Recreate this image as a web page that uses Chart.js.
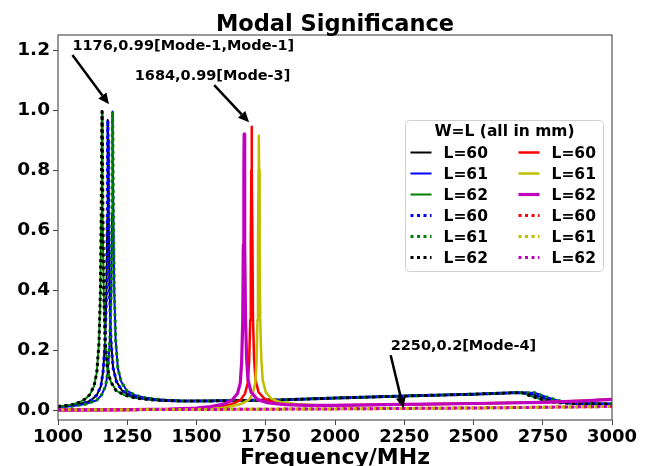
<!DOCTYPE html>
<html>
<head>
<meta charset="utf-8">
<script src="https://cdn.jsdelivr.net/npm/chart.js@4.4.1/dist/chart.umd.min.js"></script>
<style>
  html, body { margin: 0; padding: 0; background: #fff; }
  #wrap { width: 656px; height: 466px; }
</style>
</head>
<body>
<div id="wrap"><canvas id="chart" width="656" height="466"></canvas></div>
<script>
// Modal significance curves (x in MHz)
const freqA60 = [1000,1050,1100,1120,1140,1155,1163,1170,1175,1178,1179,1180,1181,1183,1186,1191,1199,1211,1231,1260,1300,1370,1450,1600,1800,2000,2250,2500,2650,2700,2740,2780,2820,2870,3000];
const msA60   = [0.011,0.015,0.025,0.033,0.05,0.08,0.13,0.23,0.39,0.64,0.90,0.967,0.90,0.64,0.40,0.235,0.14,0.095,0.065,0.05,0.04,0.033,0.030,0.031,0.034,0.040,0.047,0.053,0.058,0.057,0.045,0.033,0.026,0.022,0.020];

const freqA61 = [1000,1050,1100,1140,1157,1172,1180,1187,1192,1195,1196,1197,1198,1200,1203,1208,1216,1228,1248,1278,1320,1390,1460,1600,1800,2000,2250,2500,2650,2720,2760,2800,2840,2890,3000];
const msA61   = [0.010,0.013,0.02,0.033,0.05,0.08,0.13,0.23,0.39,0.65,0.92,0.995,0.92,0.65,0.40,0.235,0.14,0.095,0.065,0.05,0.04,0.033,0.030,0.031,0.034,0.040,0.047,0.053,0.058,0.058,0.045,0.033,0.026,0.022,0.021];

const freqA62 = [1000,1050,1080,1100,1115,1130,1140,1148,1153,1156,1158,1159,1160,1162,1165,1170,1178,1190,1210,1240,1280,1350,1450,1600,1800,2000,2250,2500,2650,2675,2710,2750,2790,2850,3000];
const msA62   = [0.012,0.018,0.027,0.038,0.052,0.080,0.125,0.225,0.39,0.65,0.93,0.995,0.93,0.65,0.40,0.235,0.14,0.095,0.065,0.05,0.04,0.033,0.030,0.031,0.034,0.040,0.047,0.053,0.058,0.058,0.046,0.034,0.026,0.022,0.020];

const freqB60 = [1000,1300,1500,1580,1630,1660,1675,1685,1690,1694,1696,1698,1699,1700,1702,1704,1708,1713,1724,1745,1780,1840,1900,2000,2250,2500,2750,2900,3000];
const msB60   = [0.0,0.001,0.004,0.01,0.02,0.035,0.055,0.09,0.16,0.3,0.55,0.8,0.944,0.8,0.55,0.3,0.17,0.1,0.06,0.038,0.026,0.019,0.017,0.016,0.019,0.022,0.026,0.031,0.036];

const freqB61 = [1000,1300,1500,1600,1660,1690,1703,1712,1717,1720,1722,1724,1725,1726,1728,1730,1734,1739,1750,1770,1800,1860,1920,2000,2250,2500,2750,2900,3000];
const msB61   = [0.0,0.001,0.003,0.008,0.02,0.035,0.055,0.09,0.16,0.3,0.55,0.8,0.914,0.8,0.55,0.3,0.17,0.1,0.06,0.038,0.027,0.02,0.017,0.016,0.019,0.022,0.026,0.031,0.036];

const freqB62 = [1000,1200,1400,1500,1550,1600,1630,1648,1658,1663,1667,1669,1671,1672,1673,1675,1677,1681,1686,1697,1720,1760,1820,1900,2000,2250,2500,2750,2900,3000];
const msB62   = [0.0,0.001,0.003,0.007,0.012,0.02,0.035,0.055,0.09,0.16,0.3,0.55,0.8,0.92,0.8,0.55,0.3,0.17,0.1,0.06,0.035,0.024,0.018,0.016,0.016,0.019,0.022,0.026,0.031,0.036];

const freqBdot = [1000,1500,2000,2500,3000];
const msBdot   = [0.001,0.002,0.004,0.007,0.012];

const seriesLabels = ['L=60','L=61','L=62','L=60','L=61','L=62','L=60','L=61','L=62','L=60','L=61','L=62'];
const seriesFreq = [freqA60, freqA61, freqA62, freqA60, freqA61, freqA62, freqB60, freqB61, freqB62, freqBdot, freqBdot, freqBdot];
const seriesMs   = [msA60, msA61, msA62, msA60, msA61, msA62, msB60, msB61, msB62, msBdot, msBdot, msBdot];

const xTicks = [1000,1250,1500,1750,2000,2250,2500,2750,3000];
const yTicks = [0.0,0.2,0.4,0.6,0.8,1.0,1.2];

const annotTexts = ['1176,0.99[Mode-1,Mode-1]', '1684,0.99[Mode-3]', '2250,0.2[Mode-4]'];
const annotTextAt = [[1052,1.211],[1277,1.111],[2201,0.213]];
const annotFrom = [[1052,1.183],[1564,1.083],[2201,0.183]];
const annotTo = [[1184,1.019],[1690,0.959],[2247,0.006]];

// styles
const colors = ['#000000','#0000ff','#008000','#0000ff','#008000','#000000','#ff0000','#bfbf00','#bf00bf','#ff0000','#bfbf00','#bf00bf'];
const widths = [2,2,2,3,3,3,2.5,2.5,3.2,3,3,3];
const dotted = [false,false,false,true,true,true,false,false,false,true,true,true];
const dashOffsets = [0,0,0,0,0,0,0,0,0,2,3.2,0];
const DOT = [3, 3.5];
const FONT = '"DejaVu Sans", sans-serif';

const datasets = seriesLabels.map((label, i) => ({
  label,
  data: seriesFreq[i].map((f, k) => ({ x: f, y: seriesMs[i][k] })),
  borderColor: colors[i],
  borderWidth: widths[i],
  borderDash: dotted[i] ? DOT : [],
  borderDashOffset: dashOffsets[i],
  borderCapStyle: 'butt',
  borderJoinStyle: 'round',
  pointRadius: 0,
  tension: 0,
  fill: false,
  order: seriesLabels.length - i
}));

function drawArrow(ctx, x0, y0, x1, y1) {
  const ang = Math.atan2(y1 - y0, x1 - x0);
  const headLen = 11, headW = 5;
  const bx = x1 - headLen * Math.cos(ang), by = y1 - headLen * Math.sin(ang);
  ctx.beginPath();
  ctx.moveTo(x0, y0);
  ctx.lineTo(bx, by);
  ctx.lineWidth = 2.5;
  ctx.stroke();
  ctx.beginPath();
  ctx.moveTo(x1, y1);
  ctx.lineTo(bx + headW * Math.sin(ang), by - headW * Math.cos(ang));
  ctx.lineTo(bx - headW * Math.sin(ang), by + headW * Math.cos(ang));
  ctx.closePath();
  ctx.fill();
}

const overlay = {
  id: 'overlay',
  afterDraw(chart) {
    const { ctx, chartArea: a, scales: { x, y } } = chart;
    ctx.save();

    // axes frame
    ctx.strokeStyle = '#555';
    ctx.lineWidth = 1.2;
    ctx.strokeRect(a.left, a.top, a.right - a.left, a.bottom - a.top);

    // title + x label
    ctx.fillStyle = '#000';
    ctx.textAlign = 'center';
    ctx.textBaseline = 'alphabetic';
    const cx = (a.left + a.right) / 2;
    ctx.font = 'bold 22.5px ' + FONT;
    ctx.fillText('Modal Significance', cx, 31);
    ctx.font = 'bold 22px ' + FONT;
    ctx.fillText('Frequency/MHz', cx, 464);

    // annotations
    ctx.strokeStyle = '#000';
    ctx.font = 'bold 14.5px ' + FONT;
    ctx.textAlign = 'left';
    ctx.textBaseline = 'middle';
    annotTexts.forEach((t, i) => {
      ctx.fillText(t, x.getPixelForValue(annotTextAt[i][0]), y.getPixelForValue(annotTextAt[i][1]));
      drawArrow(ctx,
        x.getPixelForValue(annotFrom[i][0]), y.getPixelForValue(annotFrom[i][1]),
        x.getPixelForValue(annotTo[i][0]), y.getPixelForValue(annotTo[i][1]));
    });

    // legend, two columns
    const box = { l: 405.5, t: 120.5, w: 198, h: 151 };
    ctx.fillStyle = 'rgba(255,255,255,0.85)';
    ctx.strokeStyle = '#d0d0d0';
    ctx.lineWidth = 1;
    ctx.beginPath();
    ctx.roundRect(box.l, box.t, box.w, box.h, 4);
    ctx.fill();
    ctx.stroke();
    ctx.fillStyle = '#000';
    ctx.textAlign = 'center';
    ctx.font = 'bold 15.5px ' + FONT;
    ctx.fillText('W=L (all in mm)', box.l + box.w / 2, 131.5);
    ctx.textAlign = 'left';
    const colX = [410.5, 518.5];
    const rowY0 = 152.5, rowH = 21;
    datasets.forEach((ds, i) => {
      const col = Math.floor(i / 6), row = i % 6;
      const hx = colX[col], hy = rowY0 + row * rowH;
      ctx.strokeStyle = ds.borderColor;
      ctx.lineWidth = ds.borderWidth;
      ctx.setLineDash(ds.borderDash);
      ctx.lineCap = 'butt';
      ctx.beginPath();
      ctx.moveTo(hx, hy);
      ctx.lineTo(hx + 21, hy);
      ctx.stroke();
      ctx.setLineDash([]);
      ctx.fillStyle = '#000';
      ctx.fillText(ds.label, hx + 33, hy + 1);
    });

    ctx.restore();
  }
};

new Chart(document.getElementById('chart'), {
  type: 'line',
  data: { datasets },
  options: {
    responsive: false,
    animation: false,
    layout: { padding: { top: 35, right: 44, left: 0, bottom: 0 } },
    plugins: { legend: { display: false }, title: { display: false }, tooltip: { enabled: false } },
    scales: {
      x: {
        type: 'linear',
        min: 1000,
        max: 3000,
        afterBuildTicks: s => { s.ticks = xTicks.map(v => ({ value: v })); },
        afterFit: s => { s.height = 46; },
        ticks: {
          autoSkip: false,
          maxRotation: 0,
          padding: 2,
          color: '#000',
          font: { family: FONT, size: 18, weight: 'bold' },
          callback: v => String(v)
        },
        grid: { drawOnChartArea: false, drawTicks: true, tickLength: 5, tickColor: '#444' },
        border: { display: false }
      },
      y: {
        type: 'linear',
        min: -0.033,
        max: 1.25,
        afterBuildTicks: s => { s.ticks = yTicks.map(v => ({ value: v })); },
        afterFit: s => { s.width = 58; },
        ticks: {
          autoSkip: false,
          padding: 3,
          color: '#000',
          font: { family: FONT, size: 18.5, weight: 'bold' },
          callback: v => Number(v).toFixed(1)
        },
        grid: { drawOnChartArea: false, drawTicks: true, tickLength: 5, tickColor: '#444' },
        border: { display: false }
      }
    }
  },
  plugins: [overlay]
});
</script>
</body>
</html>
